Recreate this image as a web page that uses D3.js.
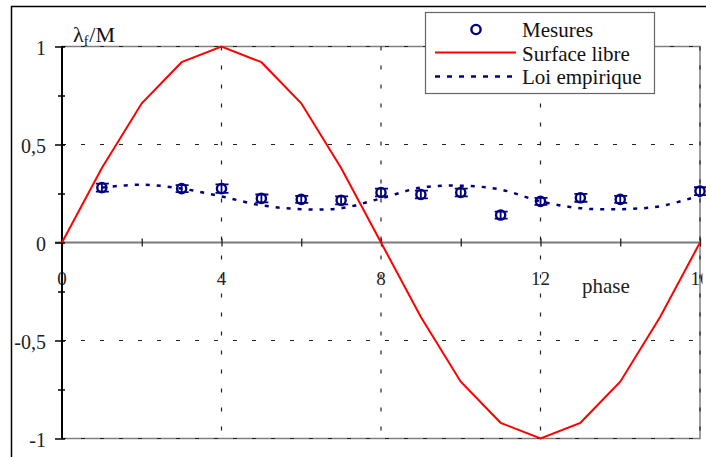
<!DOCTYPE html>
<html><head><meta charset="utf-8">
<script src="https://cdn.jsdelivr.net/npm/d3@7"></script>
<style>
html,body{margin:0;padding:0;background:#fff;}
svg{display:block;font-family:"Liberation Serif","DejaVu Serif",serif;}
</style></head>
<body>
<svg id="chart" width="706" height="457"></svg>
<script>
// ---- data ----
const phaseFree = [0,1,2,3,4,5,6,7,8,9,10,11,12,13,14,15,16];
const surfaceLibre = [0,0.38,0.71,0.92,1,0.92,0.71,0.38,0,-0.38,-0.71,-0.92,-1,-0.92,-0.71,-0.38,0];
const phaseEmp = [1,2,3,4,5,6,7,8,9,10,11,12,13,14,15,16];
const loiEmpirique = [0.28,0.295,0.275,0.235,0.19,0.17,0.175,0.225,0.28,0.29,0.27,0.21,0.175,0.17,0.185,0.24];
const phaseMes = [1,3,4,5,6,7,8,9,10,11,12,13,14,16];
const mesures = [0.28,0.275,0.275,0.225,0.22,0.215,0.255,0.245,0.255,0.14,0.21,0.228,0.22,0.262];
const mesErr = [0.02,0.018,0.022,0.02,0.018,0.02,0.02,0.02,0.02,0.018,0.018,0.02,0.018,0.02];
const xTickLabels = [0,4,8,12,16];
const yTickLabels = [-1,-0.5,0,0.5,1];
const legendLabels = ["Mesures","Surface libre","Loi empirique"];

const svg = d3.select("#chart");
const x = d3.scaleLinear().domain([0,16]).range([62,700]);
const y = d3.scaleLinear().domain([-1,1]).range([438.5,46.5]);
const fmt = v => String(v).replace(".", ",");

// clip (the reference cuts the last tick label at the plot edge)
svg.append("defs").append("clipPath").attr("id","clipR")
  .append("rect").attr("x",0).attr("y",0).attr("width",702.5).attr("height",457);

// outer frame
svg.append("path").attr("d","M11.5,457 V6.5 H706").attr("fill","none")
  .attr("stroke","#000").attr("stroke-width",1.5);

// plot border (grey)
svg.append("rect").attr("x",x(0)).attr("y",y(1)).attr("width",x(16)-x(0)).attr("height",y(-1)-y(1))
  .attr("fill","none").attr("stroke","#808080").attr("stroke-width",1.5);

// gridlines
const grid = svg.append("g").attr("stroke","#222").attr("stroke-width",1.2).attr("stroke-dasharray","4,15");
[1,0.5,-0.5,-1].forEach(v=>{
  grid.append("line").attr("x1",x(0)).attr("x2",x(16)).attr("y1",y(v)).attr("y2",y(v));
});
[4,8,12,16].forEach(v=>{
  grid.append("line").attr("x1",x(v)).attr("x2",x(v)).attr("y1",y(1)).attr("y2",y(-1));
});

// zero axis (grey) with ticks
const xAxis = d3.axisBottom(x).tickValues(d3.range(0,17,2)).tickSize(0).tickFormat("");
const gx = svg.append("g").attr("transform",`translate(0,${y(0)})`).call(xAxis);
gx.select(".domain").attr("stroke","#7a7a7a").attr("stroke-width",2).attr("d",`M55,0H${x(16)}`);
gx.selectAll(".tick line").attr("stroke","#222").attr("stroke-width",1.3).attr("y1",-4).attr("y2",4);

// x tick labels
svg.append("g").attr("clip-path","url(#clipR)").selectAll("text").data(xTickLabels).join("text")
  .attr("x",d=>x(d)).attr("y",285).attr("text-anchor","middle").attr("font-size",19).attr("fill","#222")
  .text(d=>d);
svg.append("text").attr("x",582).attr("y",293).attr("font-size",21).attr("fill","#222").text("phase");

// y axis
const yAxis = d3.axisLeft(y).tickValues(d3.range(-1,1.01,0.25)).tickSize(0).tickFormat("");
const gy = svg.append("g").attr("transform",`translate(${x(0)},0)`).call(yAxis);
gy.select(".domain").attr("stroke","#000").attr("stroke-width",2).attr("d",`M0,${y(1)}V${y(-1)}`);
gy.selectAll(".tick line").attr("stroke","#000").attr("stroke-width",1.5)
  .attr("x1",(d)=> (Math.abs(d*2-Math.round(d*2))<1e-6)? -7 : -4).attr("x2",3);
svg.append("g").selectAll("text").data(yTickLabels).join("text")
  .attr("x",46).attr("y",d=>y(d)+8).attr("text-anchor","end").attr("font-size",20).attr("fill","#222")
  .text(d=>fmt(d));

// y title
const yt = svg.append("text").attr("x",73).attr("y",42).attr("font-size",22).attr("fill","#111");
yt.append("tspan").text("λ");
yt.append("tspan").attr("font-size",14).attr("dy",4).text("f");
yt.append("tspan").attr("dy",-4).attr("dx",1).text("/M");

// Surface libre
svg.append("path").datum(phaseFree.map((p,i)=>[p,surfaceLibre[i]]))
  .attr("fill","none").attr("stroke","#ff0000").attr("stroke-width",2)
  .attr("d",d3.line().x(d=>x(d[0])).y(d=>y(d[1])));

// Loi empirique
svg.append("path").datum(phaseEmp.map((p,i)=>[p,loiEmpirique[i]]))
  .attr("fill","none").attr("stroke","#000080").attr("stroke-width",2.5).attr("stroke-dasharray","4,7")
  .attr("d",d3.line().curve(d3.curveCatmullRom).x(d=>x(d[0])).y(d=>y(d[1])));

// Mesures with error bars
const mg = svg.append("g").attr("stroke","#000080").attr("fill","none");
phaseMes.forEach((p,i)=>{
  const cx = x(p), cy = y(mesures[i]), t = y(mesures[i]+mesErr[i]), b = y(mesures[i]-mesErr[i]);
  mg.append("path").attr("stroke-width",1.8)
    .attr("d",`M${cx},${t}V${b}M${cx-6},${t}H${cx+7}M${cx-6},${b}H${cx+7}`);
  mg.append("circle").attr("cx",cx).attr("cy",cy).attr("r",4.6).attr("stroke-width",2.4);
});

// legend
const lg = svg.append("g");
lg.append("rect").attr("x",425.5).attr("y",12.5).attr("width",229).attr("height",81)
  .attr("fill","#fff").attr("stroke","#666").attr("stroke-width",1.2);
lg.append("circle").attr("cx",476).attr("cy",29.5).attr("r",4.6).attr("fill","none")
  .attr("stroke","#000080").attr("stroke-width",2.4);
lg.append("line").attr("x1",435).attr("x2",516).attr("y1",52.5).attr("y2",52.5)
  .attr("stroke","#ff0000").attr("stroke-width",2);
lg.append("line").attr("x1",435).attr("x2",516).attr("y1",76.5).attr("y2",76.5)
  .attr("stroke","#000080").attr("stroke-width",2.5).attr("stroke-dasharray","5,7");
lg.selectAll("text").data(legendLabels).join("text")
  .attr("x",522).attr("y",(d,i)=>37+i*23.5).attr("font-size",21).attr("fill","#111").text(d=>d);
</script>
</body></html>
